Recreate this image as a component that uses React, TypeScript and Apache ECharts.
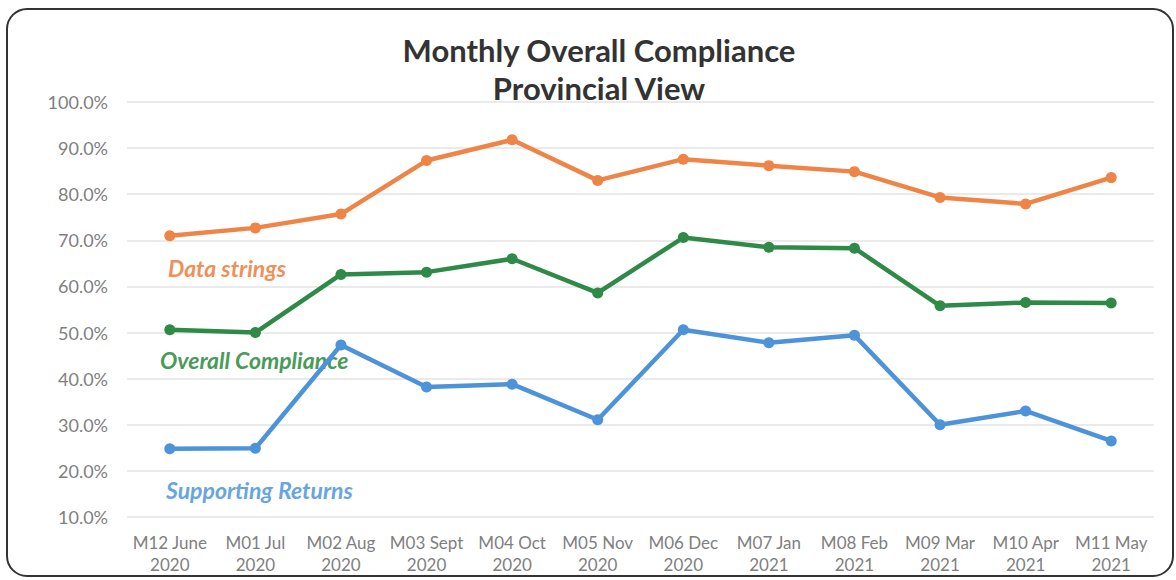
import React, { useEffect, useRef } from "react";
import * as echarts from "echarts";

const categories = [
  "M12 June\n2020", "M01 Jul\n2020", "M02 Aug\n2020", "M03 Sept\n2020", "M04 Oct\n2020", "M05 Nov\n2020",
  "M06 Dec\n2020", "M07 Jan\n2021", "M08 Feb\n2021", "M09 Mar\n2021", "M10 Apr\n2021", "M11 May\n2021",
];
const dataStrings = [71.0, 72.7, 75.7, 87.3, 91.8, 83.0, 87.6, 86.2, 84.9, 79.3, 77.9, 83.6];
const overallCompliance = [50.6, 50.0, 62.6, 63.1, 66.0, 58.6, 70.6, 68.5, 68.3, 55.8, 56.5, 56.4];
const supportingReturns = [24.8, 24.9, 47.3, 38.2, 38.8, 31.1, 50.6, 47.8, 49.4, 30.0, 33.0, 26.5];
const seriesNames = ["Data strings", "Overall Compliance", "Supporting Returns"];
const titleLines = "Monthly Overall Compliance\nProvincial View";

export default function App() {
  const ref = useRef<HTMLDivElement>(null);
  useEffect(() => {
    if (!ref.current) return;
    const chart = echarts.init(ref.current, null, { renderer: "svg" });
    const colors = ["#EF8447", "#2F8A48", "#4C93DA"];
    const labelColors = ["#F08F57", "#4A9A5A", "#67A5E2"];
    const mk = (name: string, data: number[], i: number) => ({
      name,
      type: "line",
      data,
      symbol: "circle",
      symbolSize: 11,
      lineStyle: { width: 4.5, color: colors[i] },
      itemStyle: { color: colors[i] },
    });
    const labelFont = "Lato, 'Open Sans', sans-serif";
    chart.setOption({
      animation: false,
      backgroundColor: "#ffffff",
      title: {
        text: titleLines,
        left: 594,
        top: 26,
        textAlign: "center",
        textStyle: {
          fontFamily: labelFont,
          fontWeight: "bold",
          fontSize: 31,
          lineHeight: 38,
          color: "#333333",
        },
      },
      grid: { left: 127, right: 22, top: 102, bottom: 63 },
      xAxis: {
        type: "category",
        data: categories,
        boundaryGap: true,
        axisLine: { show: false },
        axisTick: { show: false },
        axisLabel: {
          color: "#808080",
          fontFamily: labelFont,
          fontSize: 17,
          lineHeight: 22,
          margin: 14,
          interval: 0,
        },
      },
      yAxis: {
        type: "value",
        min: 10,
        max: 100,
        interval: 10,
        axisLine: { show: false },
        axisTick: { show: false },
        splitLine: { lineStyle: { color: "#e3e3e3", width: 1.5 } },
        axisLabel: {
          color: "#808080",
          fontFamily: labelFont,
          fontSize: 18,
          margin: 19,
          formatter: (v: number) => v.toFixed(1) + "%",
        },
      },
      graphic: [
        {
          type: "rect",
          shape: { x: 7, y: 9, width: 1166, height: 567, r: 20 },
          style: { fill: "none", stroke: "#333333", lineWidth: 2 },
          silent: true,
        },
        {
          type: "text",
          x: 168,
          y: 268,
          style: { text: seriesNames[0], fill: labelColors[0], font: `italic bold 23px ${labelFont}`, verticalAlign: "middle" },
        },
        {
          type: "text",
          x: 160,
          y: 360,
          style: { text: seriesNames[1], fill: labelColors[1], font: `italic bold 23px ${labelFont}`, verticalAlign: "middle" },
        },
        {
          type: "text",
          x: 166,
          y: 490,
          style: { text: seriesNames[2], fill: labelColors[2], font: `italic bold 23px ${labelFont}`, verticalAlign: "middle" },
        },
      ],
      series: [
        mk(seriesNames[0], dataStrings, 0),
        mk(seriesNames[1], overallCompliance, 1),
        mk(seriesNames[2], supportingReturns, 2),
      ],
    });
    return () => chart.dispose();
  }, []);
  return <div ref={ref} style={{ position: "fixed", left: 0, top: 0, width: 1176, height: 580 }} />;
}
